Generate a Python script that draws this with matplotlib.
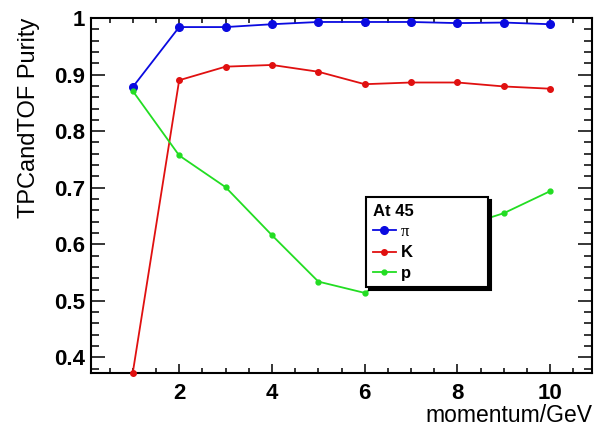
import numpy as np
import matplotlib.pyplot as plt
from matplotlib.ticker import MultipleLocator, FormatStrFormatter

plt.rcParams['font.family'] = ['Liberation Sans', 'DejaVu Sans']

# datos
momentum = [1, 2, 3, 4, 5, 6, 7, 8, 9, 10]
pureza_pi = [0.878, 0.984, 0.984, 0.989, 0.993, 0.993, 0.993, 0.991, 0.992, 0.989]
pureza_k = [0.373, 0.890, 0.914, 0.917, 0.905, 0.883, 0.886, 0.886, 0.879, 0.875]
pureza_p = [0.871, 0.757, 0.701, 0.616, 0.534, 0.514, 0.565, 0.629, 0.655, 0.694]

fig = plt.figure(figsize=(5.95, 4.29), dpi=100)
ax = fig.add_axes([0.153, 0.13, 0.842, 0.828])

ax.plot(momentum, pureza_pi, color="#0a0ae0", lw=1.3, marker="o", ms=5.5,
        label="π", clip_on=False, zorder=3)
ax.plot(momentum, pureza_k, color="#e01010", lw=1.3, marker="o", ms=4,
        label="K", clip_on=False, zorder=3)
ax.plot(momentum, pureza_p, color="#22dd22", lw=1.3, marker="o", ms=3.5,
        label="p", clip_on=False, zorder=3)

ax.set_xlim(0.1, 10.9)
ax.set_ylim(0.372, 1.0)

ax.xaxis.set_major_locator(MultipleLocator(2))
ax.xaxis.set_minor_locator(MultipleLocator(0.5))
ax.yaxis.set_major_locator(MultipleLocator(0.1))
ax.yaxis.set_minor_locator(MultipleLocator(0.02))
ax.yaxis.set_major_formatter(FormatStrFormatter('%g'))

ax.tick_params(which="both", direction="in", top=True, right=True, width=1.1)
ax.tick_params(axis="y", which="major", length=10, labelsize=16, pad=4)
ax.tick_params(axis="y", which="minor", length=5.5)
ax.tick_params(axis="x", which="major", length=6.5, labelsize=16, pad=7)
ax.tick_params(axis="x", which="minor", length=3.5)
for lab in ax.get_xticklabels() + ax.get_yticklabels():
    lab.set_fontweight("bold")
for s in ax.spines.values():
    s.set_linewidth(1.5)

ax.set_xlabel("momentum/GeV", fontsize=16.5, loc="right", labelpad=0)
ax.set_ylabel("TPCandTOF Purity", fontsize=17, loc="top", labelpad=10)

leg = ax.legend(title="At 45", loc="upper left",
                bbox_to_anchor=(0.549, 0.256, 0.2435, 0.24), mode="expand",
                borderaxespad=0,
                fontsize=12, title_fontsize=12, alignment="left",
                handlelength=1.4, handletextpad=0.3, labelspacing=0.32,
                borderpad=0.4, fancybox=False, framealpha=1,
                edgecolor="black", shadow={"color": "black", "alpha": 1})
leg.get_frame().set_linewidth(1.5)
leg.get_title().set_fontweight("bold")
leg.get_texts()[0].set_fontfamily(["Liberation Serif", "DejaVu Serif"])
leg.get_texts()[1].set_fontweight("bold")
leg.get_texts()[2].set_fontweight("bold")

plt.savefig("out.png", dpi=100)
